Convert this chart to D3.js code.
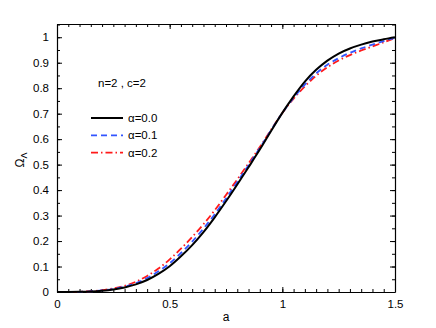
<!DOCTYPE html>
<html>
<head>
<meta charset="utf-8">
<script src="https://cdn.jsdelivr.net/npm/d3@7"></script>
<style>
	body { margin: 0; background: #fff; }
	text { font-family: "Liberation Sans", Arial, sans-serif; }
</style>
</head>
<body>
<div id="graph"></div>
<script>
const aValues = [0, 0.05, 0.1, 0.15, 0.2, 0.25, 0.3, 0.35, 0.4, 0.45, 0.5, 0.55, 0.6, 0.65, 0.7, 0.75, 0.8, 0.85, 0.9, 0.95, 1.0, 1.05, 1.1, 1.15, 1.2, 1.25, 1.3, 1.35, 1.4, 1.45, 1.5];
const omegaAlpha0 = [0, 0, 0.0005, 0.002, 0.005, 0.010, 0.018, 0.030, 0.047, 0.071, 0.101, 0.140, 0.184, 0.235, 0.293, 0.356, 0.422, 0.490, 0.559, 0.632, 0.703, 0.768, 0.826, 0.872, 0.908, 0.936, 0.956, 0.971, 0.983, 0.992, 1.0];
const omegaAlpha1 = [0, 0, 0.0007, 0.0025, 0.006, 0.012, 0.021, 0.035, 0.055, 0.081, 0.113, 0.153, 0.198, 0.249, 0.305, 0.367, 0.432, 0.498, 0.565, 0.635, 0.703, 0.762, 0.814, 0.858, 0.892, 0.918, 0.939, 0.956, 0.971, 0.985, 0.998];
const omegaAlpha2 = [0, 0, 0.001, 0.003, 0.007, 0.014, 0.024, 0.040, 0.063, 0.092, 0.128, 0.170, 0.216, 0.266, 0.321, 0.381, 0.442, 0.505, 0.569, 0.637, 0.703, 0.759, 0.807, 0.849, 0.882, 0.909, 0.930, 0.948, 0.964, 0.980, 0.997];
const seriesNames = ['α=0.0', 'α=0.1', 'α=0.2'];
const xTicks = [0, 0.5, 1, 1.5];
const yTicks = [0, 0.1, 0.2, 0.3, 0.4, 0.5, 0.6, 0.7, 0.8, 0.9, 1];

function drawGraph() {
	const margin = { top: 24, right: 41, bottom: 36, left: 57 };
	const width = 436 - margin.left - margin.right;
	const height = 328 - margin.top - margin.bottom;

	const xScale = d3.scaleLinear().domain([0, 1.5]).range([0, width]);
	const yScale = d3.scaleLinear().domain([0, 1.052]).range([height, 0]);

	const svg = d3
		.select('#graph')
		.append('svg')
		.attr('width', 436)
		.attr('height', 328)
		.append('g')
		.attr('transform', `translate(${margin.left}, ${margin.top})`);

	const xMinor = d3.range(0, 1.5001, 0.05);
	const yMinor = d3.range(0, 1.0501, 0.05);

	// inward ticks on all four sides
	const fmt = (d) => (d === 0 ? '0' : String(d));
	const axes = [
		{ axis: d3.axisBottom(xScale).tickValues(xTicks).tickFormat(fmt), minor: d3.axisBottom(xScale).tickValues(xMinor), t: `translate(0, ${height})`, label: true },
		{ axis: d3.axisTop(xScale).tickValues(xTicks), minor: d3.axisTop(xScale).tickValues(xMinor), t: 'translate(0, 0)', label: false },
		{ axis: d3.axisLeft(yScale).tickValues(yTicks).tickFormat(fmt), minor: d3.axisLeft(yScale).tickValues(yMinor), t: 'translate(0, 0)', label: true },
		{ axis: d3.axisRight(yScale).tickValues(yTicks), minor: d3.axisRight(yScale).tickValues(yMinor), t: `translate(${width}, 0)`, label: false },
	];

	axes.forEach((a) => {
		const g = svg.append('g').attr('transform', a.t);
		g.call(a.minor.tickSizeInner(-3).tickSizeOuter(0).tickFormat(''));
		g.select('.domain').remove();
		const g2 = svg.append('g').attr('transform', a.t);
		g2.call(a.axis.tickSizeInner(-5).tickSizeOuter(0).tickPadding(8));
		if (!a.label) g2.selectAll('text').remove();
		g2.selectAll('text').style('font-size', '11.5px').attr('fill', '#000');
		g2.select('.domain').attr('stroke-width', 1.2);
	});

	const line = d3
		.line()
		.x((d) => xScale(d[0]))
		.y((d) => yScale(d[1]))
		.curve(d3.curveMonotoneX);

	const series = [
		{ values: omegaAlpha0, color: '#000000', dash: null, w: 2 },
		{ values: omegaAlpha1, color: '#3355ff', dash: '6,4', w: 1.8 },
		{ values: omegaAlpha2, color: '#ff1a1a', dash: '7,3,1.5,3', w: 1.8 },
	];

	svg.append('clipPath').attr('id', 'clip').append('rect').attr('width', width).attr('height', height + 2).attr('y', -1);

	series.slice().reverse().forEach((s) => {
		svg.append('path')
			.datum(aValues.map((a, i) => [a, s.values[i]]))
			.attr('clip-path', 'url(#clip)')
			.attr('fill', 'none')
			.attr('stroke', s.color)
			.attr('stroke-width', s.w)
			.attr('stroke-dasharray', s.dash)
			.attr('d', line);
	});

	// legend
	svg.append('text').attr('x', 98 - margin.left).attr('y', 87 - margin.top).style('font-size', '11.5px').text('n=2 , c=2');

	const legend = svg.selectAll('.legend').data(series).enter().append('g').attr('transform', (d, i) => `translate(${91 - margin.left}, ${118 + i * 17.3 - margin.top})`);
	legend.append('line').attr('x1', 0).attr('x2', 32).attr('stroke', (d) => d.color).attr('stroke-width', (d) => d.w).attr('stroke-dasharray', (d) => d.dash);
	legend.append('text').attr('x', 37).attr('y', 4).style('font-size', '11.5px').text((d, i) => seriesNames[i]);

	// axis labels
	svg.append('text').attr('x', 226 - margin.left).attr('y', 321 - margin.top).attr('text-anchor', 'middle').style('font-size', '12px').text('a');

	const yl = svg.append('text').attr('transform', `translate(${24 - margin.left}, ${160 - margin.top}) rotate(-90)`).attr('text-anchor', 'middle').style('font-size', '12px');
	yl.append('tspan').text('Ω');
	yl.append('tspan').attr('dy', 3).style('font-size', '9px').text('Λ');
}

drawGraph();
</script>
</body>
</html>
